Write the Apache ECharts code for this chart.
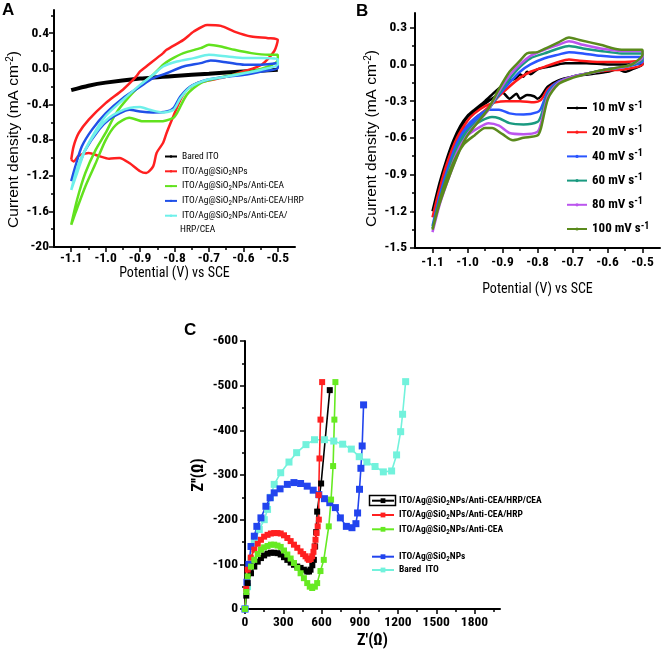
<!DOCTYPE html>
<html><head><meta charset="utf-8">
<script src="https://cdn.jsdelivr.net/npm/echarts@6/dist/echarts.min.js"></script>
<style>html,body{margin:0;padding:0;background:#fff}#c{width:661px;height:651px}</style>
</head><body><div id="c"></div>
<script>
// ---------- Panel A: CV of modified electrodes ----------
const aBare = [[-1.1,-0.24],[-1.05,-0.19],[-1.0,-0.155],[-0.9,-0.11],[-0.8,-0.08],[-0.7,-0.055],[-0.6,-0.03],[-0.5,-0.01]];
const aRed = [[-1.1,-1.02],[-1.093,-0.87],[-1.078,-0.72],[-1.049,-0.57],[-1.0,-0.385],[-0.95,-0.235],[-0.911,-0.086],[-0.9,-0.03],[-0.882,0.026],[-0.833,0.176],[-0.823,0.213],[-0.774,0.325],[-0.744,0.418],[-0.705,0.493],[-0.665,0.482],[-0.626,0.418],[-0.577,0.362],[-0.528,0.344],[-0.5,0.325],[-0.51,0.2],[-0.547,0.045],[-0.6,-0.03],[-0.65,-0.09],[-0.7,-0.13],[-0.734,-0.16],[-0.764,-0.235],[-0.783,-0.35],[-0.803,-0.53],[-0.823,-0.72],[-0.833,-0.83],[-0.852,-0.945],[-0.862,-1.095],[-0.882,-1.17],[-0.9,-1.15],[-0.93,-1.06],[-0.96,-1.0],[-0.99,-1.01],[-1.019,-0.98],[-1.049,-0.945],[-1.078,-0.975],[-1.093,-1.04],[-1.1,-1.02]];
const aGreen = [[-1.1,-1.75],[-1.083,-1.47],[-1.059,-1.17],[-1.029,-0.91],[-1.0,-0.72],[-0.97,-0.5],[-0.931,-0.31],[-0.892,-0.16],[-0.862,-0.067],[-0.833,0.045],[-0.813,0.1],[-0.774,0.176],[-0.724,0.232],[-0.7,0.27],[-0.665,0.25],[-0.626,0.213],[-0.577,0.176],[-0.528,0.157],[-0.5,0.157],[-0.5,0.1],[-0.528,0.026],[-0.577,-0.03],[-0.626,-0.067],[-0.675,-0.105],[-0.724,-0.16],[-0.764,-0.29],[-0.793,-0.5],[-0.803,-0.55],[-0.843,-0.59],[-0.892,-0.59],[-0.931,-0.55],[-0.97,-0.63],[-1.0,-0.8],[-1.029,-1.06],[-1.059,-1.32],[-1.088,-1.62],[-1.1,-1.75]];
const aBlue = [[-1.1,-1.26],[-1.088,-1.095],[-1.069,-0.87],[-1.039,-0.68],[-1.0,-0.5],[-0.95,-0.33],[-0.9,-0.2],[-0.862,-0.105],[-0.823,-0.05],[-0.774,0.026],[-0.724,0.064],[-0.695,0.093],[-0.646,0.071],[-0.597,0.045],[-0.547,0.045],[-0.5,0.064],[-0.5,0.007],[-0.547,-0.03],[-0.597,-0.067],[-0.646,-0.086],[-0.705,-0.123],[-0.754,-0.198],[-0.783,-0.31],[-0.803,-0.44],[-0.823,-0.48],[-0.862,-0.49],[-0.9,-0.48],[-0.931,-0.46],[-0.96,-0.5],[-0.99,-0.57],[-1.019,-0.68],[-1.059,-0.91],[-1.083,-1.13],[-1.1,-1.26]];
const aCyan = [[-1.1,-1.36],[-1.078,-1.06],[-1.039,-0.76],[-1.0,-0.53],[-0.95,-0.35],[-0.9,-0.18],[-0.862,-0.067],[-0.833,0.026],[-0.793,0.082],[-0.744,0.12],[-0.7,0.157],[-0.646,0.138],[-0.597,0.12],[-0.547,0.12],[-0.5,0.108],[-0.5,0.045],[-0.547,-0.01],[-0.597,-0.05],[-0.646,-0.086],[-0.705,-0.123],[-0.754,-0.205],[-0.783,-0.33],[-0.803,-0.46],[-0.833,-0.49],[-0.872,-0.46],[-0.9,-0.43],[-0.931,-0.44],[-0.96,-0.48],[-0.99,-0.55],[-1.019,-0.665],[-1.059,-0.91],[-1.083,-1.17],[-1.1,-1.36]];

// ---------- Panel B: scan-rate dependence ----------
const b10 = [[-1.1,-1.2],[-1.08,-0.97],[-1.06,-0.78],[-1.04,-0.62],[-1.02,-0.5],[-1.0,-0.42],[-0.98,-0.37],[-0.95,-0.3],[-0.92,-0.22],[-0.89,-0.15],[-0.86,-0.11],[-0.85,-0.08],[-0.84,-0.1],[-0.83,-0.06],[-0.82,-0.08],[-0.8,-0.04],[-0.77,-0.02],[-0.72,0.01],[-0.66,0.01],[-0.6,0.0],[-0.55,0.0],[-0.5,0.01],[-0.5,0.0],[-0.53,-0.04],[-0.55,-0.06],[-0.57,-0.04],[-0.6,-0.06],[-0.65,-0.08],[-0.7,-0.1],[-0.74,-0.13],[-0.77,-0.18],[-0.79,-0.26],[-0.8,-0.28],[-0.81,-0.26],[-0.83,-0.25],[-0.85,-0.28],[-0.86,-0.24],[-0.88,-0.28],[-0.9,-0.23],[-0.92,-0.26],[-0.94,-0.3],[-0.97,-0.36],[-1.0,-0.43],[-1.03,-0.58],[-1.06,-0.8],[-1.08,-1.0],[-1.1,-1.2]];
const b20 = [[-1.1,-1.25],[-1.08,-1.02],[-1.05,-0.78],[-1.02,-0.58],[-1.0,-0.5],[-0.97,-0.42],[-0.94,-0.35],[-0.91,-0.26],[-0.88,-0.18],[-0.85,-0.11],[-0.82,-0.06],[-0.78,-0.02],[-0.74,0.02],[-0.71,0.04],[-0.68,0.03],[-0.62,0.02],[-0.56,0.02],[-0.5,0.03],[-0.5,0.0],[-0.55,-0.04],[-0.6,-0.05],[-0.65,-0.07],[-0.7,-0.1],[-0.74,-0.14],[-0.77,-0.2],[-0.79,-0.29],[-0.81,-0.31],[-0.85,-0.3],[-0.89,-0.3],[-0.92,-0.31],[-0.95,-0.34],[-0.98,-0.4],[-1.0,-0.46],[-1.03,-0.6],[-1.06,-0.82],[-1.08,-1.02],[-1.1,-1.25]];
const b40 = [[-1.1,-1.32],[-1.08,-1.1],[-1.05,-0.85],[-1.02,-0.63],[-1.0,-0.53],[-0.97,-0.44],[-0.94,-0.36],[-0.91,-0.25],[-0.88,-0.15],[-0.85,-0.06],[-0.82,0.0],[-0.78,0.05],[-0.74,0.08],[-0.71,0.1],[-0.67,0.09],[-0.62,0.07],[-0.56,0.06],[-0.5,0.06],[-0.5,0.02],[-0.55,-0.02],[-0.6,-0.04],[-0.65,-0.07],[-0.7,-0.1],[-0.74,-0.14],[-0.77,-0.22],[-0.79,-0.36],[-0.8,-0.39],[-0.84,-0.41],[-0.88,-0.4],[-0.91,-0.37],[-0.94,-0.37],[-0.97,-0.42],[-1.0,-0.5],[-1.03,-0.64],[-1.06,-0.88],[-1.08,-1.08],[-1.1,-1.32]];
const b60 = [[-1.1,-1.34],[-1.08,-1.12],[-1.05,-0.88],[-1.02,-0.66],[-1.0,-0.55],[-0.97,-0.46],[-0.94,-0.37],[-0.91,-0.24],[-0.88,-0.12],[-0.85,-0.02],[-0.82,0.05],[-0.78,0.09],[-0.74,0.13],[-0.71,0.15],[-0.67,0.13],[-0.62,0.11],[-0.56,0.09],[-0.5,0.09],[-0.5,0.04],[-0.55,-0.02],[-0.6,-0.04],[-0.65,-0.07],[-0.7,-0.1],[-0.74,-0.15],[-0.77,-0.24],[-0.79,-0.42],[-0.8,-0.47],[-0.84,-0.49],[-0.88,-0.48],[-0.91,-0.44],[-0.93,-0.43],[-0.96,-0.46],[-1.0,-0.54],[-1.03,-0.68],[-1.06,-0.92],[-1.08,-1.12],[-1.1,-1.34]];
const b80 = [[-1.1,-1.37],[-1.08,-1.15],[-1.05,-0.9],[-1.02,-0.68],[-1.0,-0.57],[-0.97,-0.47],[-0.94,-0.37],[-0.91,-0.22],[-0.88,-0.09],[-0.85,0.0],[-0.82,0.07],[-0.78,0.12],[-0.74,0.16],[-0.71,0.19],[-0.67,0.16],[-0.62,0.13],[-0.56,0.11],[-0.5,0.11],[-0.5,0.06],[-0.55,-0.02],[-0.6,-0.04],[-0.65,-0.07],[-0.7,-0.1],[-0.74,-0.15],[-0.77,-0.26],[-0.79,-0.48],[-0.8,-0.55],[-0.84,-0.57],[-0.88,-0.56],[-0.91,-0.5],[-0.94,-0.48],[-0.97,-0.52],[-1.0,-0.58],[-1.03,-0.72],[-1.06,-0.95],[-1.08,-1.15],[-1.1,-1.37]];
const b100 = [[-1.1,-1.35],[-1.08,-1.14],[-1.05,-0.9],[-1.02,-0.69],[-1.0,-0.58],[-0.97,-0.47],[-0.94,-0.36],[-0.91,-0.2],[-0.88,-0.06],[-0.85,0.03],[-0.83,0.09],[-0.8,0.1],[-0.77,0.14],[-0.74,0.18],[-0.71,0.22],[-0.68,0.2],[-0.62,0.16],[-0.56,0.12],[-0.5,0.12],[-0.5,0.08],[-0.53,0.0],[-0.56,-0.02],[-0.6,-0.04],[-0.65,-0.07],[-0.7,-0.11],[-0.74,-0.16],[-0.77,-0.28],[-0.79,-0.52],[-0.8,-0.58],[-0.84,-0.6],[-0.87,-0.62],[-0.9,-0.57],[-0.93,-0.52],[-0.95,-0.52],[-0.98,-0.58],[-1.01,-0.65],[-1.04,-0.8],[-1.07,-1.02],[-1.1,-1.35]];

// ---------- Panel C: Nyquist plots (Z', Z'') ----------
const cBlack = [[0,0],[10,-30],[21,-58],[47,-80],[73,-95],[100,-106],[125,-114],[150,-120],[177,-124],[203,-126],[229,-126],[255,-125],[280,-122],[306,-116],[332,-110],[358,-104],[384,-99],[410,-95],[436,-92],[462,-88],[488,-84],[502,-84],[514,-88],[528,-98],[540,-110],[550,-140],[558,-172],[566,-218],[597,-281],[665,-490]];
const cRed = [[0,0],[10,-45],[21,-88],[45,-115],[73,-133],[100,-146],[125,-155],[150,-162],[177,-166],[203,-169],[229,-170],[255,-170],[280,-169],[306,-165],[332,-159],[358,-152],[384,-144],[410,-137],[436,-129],[456,-123],[475,-118],[490,-113],[501,-110],[515,-112],[527,-118],[537,-128],[545,-140],[553,-155],[561,-170],[570,-185],[579,-200],[578,-255],[584,-337],[592,-424],[605,-508]];
const cGreen = [[0,0],[10,-38],[21,-73],[47,-95],[73,-110],[100,-123],[125,-133],[150,-138],[177,-141],[203,-144],[229,-144],[255,-142],[280,-139],[306,-131],[332,-122],[358,-113],[384,-103],[410,-92],[436,-80],[462,-69],[488,-58],[508,-50],[527,-47],[548,-50],[566,-58],[592,-85],[618,-110],[657,-185],[675,-245],[691,-320],[701,-424],[709,-508]];
const cBlue = [[0,0],[15,-60],[30,-100],[47,-140],[73,-163],[93,-185],[125,-204],[164,-230],[197,-249],[229,-260],[275,-269],[332,-279],[384,-283],[436,-281],[488,-275],[535,-266],[579,-256],[623,-247],[665,-238],[709,-227],[748,-204],[795,-185],[839,-182],[870,-191],[883,-215],[898,-268],[909,-315],[919,-365],[930,-457]];
const cCyan = [[0,0],[20,-50],[47,-110],[73,-148],[112,-178],[151,-200],[177,-223],[200,-250],[229,-279],[280,-305],[345,-329],[405,-350],[478,-368],[545,-379],[623,-379],[696,-376],[766,-369],[834,-358],[896,-341],[956,-329],[1020,-319],[1085,-307],[1150,-309],[1189,-345],[1221,-397],[1236,-436],[1260,-509]];

// ---------- Tick values ----------
const cvTicks = [-1.1,-1.0,-0.9,-0.8,-0.7,-0.6,-0.5];
const cvMinor = [-1.05,-0.95,-0.85,-0.75,-0.65,-0.55];
const aYTicks = [-2.0,-1.6,-1.2,-0.8,-0.4,0,0.4];
const aYMinor = [-1.8,-1.4,-1.0,-0.6,-0.2,0.2,0.6];
const bYTicks = [-1.5,-1.2,-0.9,-0.6,-0.3,0,0.3];
const bYMinor = [-1.35,-1.05,-0.75,-0.45,-0.15,0.15];
const cXTicks = [0,300,600,900,1200,1500,1800];
const cXMinor = [150,450,750,1050,1350,1650,1950];
const cYTicks = [-600,-500,-400,-300,-200,-100,0];
const cYMinor = [-550,-450,-350,-250,-150,-50];

const NARROW = "'Roboto Condensed','DejaVu Sans Condensed',sans-serif";
const SANS = "'Liberation Sans',Arial,sans-serif";

function axes(dim, gridIndex, min, max, major, minor, fmt, extra) {
  const base = {gridIndex, type:'value', min, max, splitLine:{show:false},
    position: dim === 'x' ? 'bottom' : 'left', inverse: !!(extra && extra.inverse)};
  const main = Object.assign({}, base, {
    axisLine:{show:true, onZero:false, lineStyle:{color:'#000', width:2}},
    axisTick:{show:true, customValues: major, length:5, lineStyle:{color:'#000', width:1.5}},
    axisLabel:{show:true, customValues: major, formatter: fmt, color:'#000',
      fontFamily: NARROW, fontWeight:'bold', fontSize:13.5, margin: (extra && extra.margin) || 6}
  }, extra ? extra.name : {});
  const sub = Object.assign({}, base, {
    axisLine:{show:false, onZero:false},
    axisTick:{show:true, customValues: minor, length:3, lineStyle:{color:'#000', width:1.5}},
    axisLabel:{show:false}
  });
  return [main, sub];
}
const f1 = v => v.toFixed(1);
const supRich = {sup:{fontSize:10, verticalAlign:'top', lineHeight:10, fontFamily:SANS}};

const axA_x = axes('x',0,-1.15,-0.45,cvTicks,cvMinor,f1,{margin:5,name:{name:'Potential (V) vs SCE',nameLocation:'middle',nameGap:19,
  nameTextStyle:{fontFamily:NARROW,fontSize:14,color:'#000'}}});
const axA_y = axes('y',0,-2.0,0.66,aYTicks,aYMinor,v => (v === -2 ? '-20' : v.toFixed(1)),{margin:5,name:{name:'Current density (mA cm{sup|-2})',
  nameLocation:'middle',nameGap:30,nameRotate:90,nameTextStyle:{fontFamily:SANS,fontSize:15.5,color:'#000',lineHeight:17,padding:[0,22,0,0],rich:supRich}}});
const axB_x = axes('x',1,-1.15,-0.45,cvTicks,cvMinor,f1,{margin:8,name:{name:'Potential (V) vs SCE',nameLocation:'middle',nameGap:34,
  nameTextStyle:{fontFamily:NARROW,fontSize:14,color:'#000'}}});
const axB_y = axes('y',1,-1.5,0.42,bYTicks,bYMinor,f1,{margin:8,name:{name:'Current density (mA cm{sup|-2})',
  nameLocation:'middle',nameGap:25,nameRotate:90,nameTextStyle:{fontFamily:SANS,fontSize:15.5,color:'#000',lineHeight:17,padding:[0,16,0,0],rich:supRich}}});
const axC_x = axes('x',2,0,2000,cXTicks,cXMinor,v => String(v),{margin:7,name:{name:"Z'(Ω)",nameLocation:'middle',nameGap:24,
  nameTextStyle:{fontFamily:NARROW,fontSize:16,fontWeight:'bold',color:'#000'}}});
const axC_y = axes('y',2,-600,0,cYTicks,cYMinor,v => String(v),{inverse:true,margin:7,name:{name:"Z''(Ω)",nameLocation:'middle',nameGap:38,nameRotate:90,
  nameTextStyle:{fontFamily:NARROW,fontSize:16,fontWeight:'bold',color:'#000'}}});

function lineSeries(name, data, color, xi, width) {
  return {type:'line', name, data, xAxisIndex:xi, yAxisIndex:xi, symbol:'none', smooth:0.25,
    lineStyle:{color, width: width || 2.5}, itemStyle:{color}, animation:false, silent:true};
}
function nyq(name, data, color, size) {
  return {type:'line', name, data, xAxisIndex:4, yAxisIndex:4, symbol:'rect', symbolSize:size, showSymbol:true,
    lineStyle:{color, width:1.6}, itemStyle:{color}, animation:false, silent:true};
}

const A_NAMES = ['Bared ITO','ITO/Ag@SiO2NPs','ITO/Ag@SiO2NPs/Anti-CEA','ITO/Ag@SiO2NPs/Anti-CEA/HRP','ITO/Ag@SiO2NPs/Anti-CEA/HRP/CEA'];
const B_NAMES = ['10 mV s-1','20 mV s-1','40 mV s-1','60 mV s-1','80 mV s-1','100 mV s-1'];
const C_NAMES = ['ITO/Ag@SiO2NPs/Anti-CEA/HRP/CEA ','ITO/Ag@SiO2NPs/Anti-CEA/HRP ','ITO/Ag@SiO2NPs/Anti-CEA ','ITO/Ag@SiO2NPs ','Bared  ITO '];

const series = [
  lineSeries(A_NAMES[0], aBare, '#000000', 0, 4),
  lineSeries(A_NAMES[1], aRed, '#ff2020', 0),
  lineSeries(A_NAMES[2], aGreen, '#62e21e', 0),
  lineSeries(A_NAMES[3], aBlue, '#2050e8', 0),
  lineSeries(A_NAMES[4], aCyan, '#6ef0ea', 0),
  lineSeries(B_NAMES[0], b10, '#000000', 2),
  lineSeries(B_NAMES[1], b20, '#ff1a1a', 2),
  lineSeries(B_NAMES[2], b40, '#2a55ff', 2),
  lineSeries(B_NAMES[3], b60, '#1a9a80', 2),
  lineSeries(B_NAMES[4], b80, '#bb55ee', 2),
  lineSeries(B_NAMES[5], b100, '#5a8a1c', 2),
  nyq(C_NAMES[4], cCyan, '#72f2dc', 7),
  nyq(C_NAMES[3], cBlue, '#2244ee', 7),
  nyq(C_NAMES[0], cBlack, '#000000', 6),
  nyq(C_NAMES[1], cRed, '#ff2020', 6),
  nyq(C_NAMES[2], cGreen, '#66ea22', 6)
];

const subFmt = n => n.trim().replace('SiO2', 'SiO{sub|2}');
const cLegendText = {fontFamily:NARROW, fontSize:9.5, fontWeight:'bold', color:'#000', lineHeight:12,
  rich:{sub:{fontSize:7, fontWeight:'bold', verticalAlign:'bottom', lineHeight:7, fontFamily:NARROW}}};
const option = {
  backgroundColor:'#fff',
  animation:false,
  grid:[
    {left:54, top:10, width:241, height:237},
    {left:415, top:13, width:245, height:235},
    {left:245, top:341, width:255, height:268}
  ],
  xAxis:[...axA_x, ...axB_x, ...axC_x],
  yAxis:[...axA_y, ...axB_y, ...axC_y],
  legend:[
    {data:A_NAMES, orient:'vertical', left:164, top:151, padding:0, itemWidth:12, itemHeight:3, itemGap:3.8, selectedMode:false,
      formatter: n => n.endsWith('/HRP/CEA') ? 'ITO/Ag@SiO{sub|2}NPs/Anti-CEA/' : subFmt(n),
      textStyle:{fontFamily:NARROW, fontSize:9.5, color:'#000', lineHeight:11, rich:{sub:{fontSize:7, verticalAlign:'bottom', lineHeight:7, fontFamily:NARROW}}}},
    {data:B_NAMES, orient:'vertical', left:566, top:100, padding:0, itemWidth:20, itemHeight:4, itemGap:8.2, selectedMode:false,
      formatter: n => n.replace(' s-1', ' s{sup|-1}'),
      textStyle:{fontFamily:NARROW, fontSize:13, fontWeight:'bold', color:'#000', lineHeight:16,
        rich:{sup:{fontSize:10, fontWeight:'bold', verticalAlign:'top', lineHeight:10, fontFamily:NARROW}}}},
    {data:C_NAMES.slice(0,3), orient:'vertical', left:371, top:494.7, padding:0, itemWidth:22, itemHeight:6, itemGap:2.3, selectedMode:false,
      formatter: subFmt, textStyle:cLegendText},
    {data:C_NAMES.slice(3), orient:'vertical', left:371, top:550.7, padding:0, itemWidth:22, itemHeight:6, itemGap:1.3, selectedMode:false,
      formatter: subFmt, textStyle:cLegendText}
  ],
  graphic:[
    {type:'text', left:2, top:2, style:{text:'A', fontFamily:SANS, fontWeight:'bold', fontSize:17, fill:'#000'}},
    {type:'text', left:356, top:3, style:{text:'B', fontFamily:SANS, fontWeight:'bold', fontSize:17, fill:'#000'}},
    {type:'text', left:184, top:322, style:{text:'C', fontFamily:SANS, fontWeight:'bold', fontSize:17, fill:'#000'}},
    {type:'text', left:180, top:225, style:{text:'HRP/CEA', fontFamily:NARROW, fontSize:9.5, fill:'#000'}},
    {type:'rect', shape:{x:369.5, y:495.5, width:26, height:10}, style:{fill:'none', stroke:'#000', lineWidth:1.5}}
  ],
  series
};
const chart = echarts.init(document.getElementById('c'), null, {renderer:'canvas'});
chart.setOption(option);
</script></body></html>
